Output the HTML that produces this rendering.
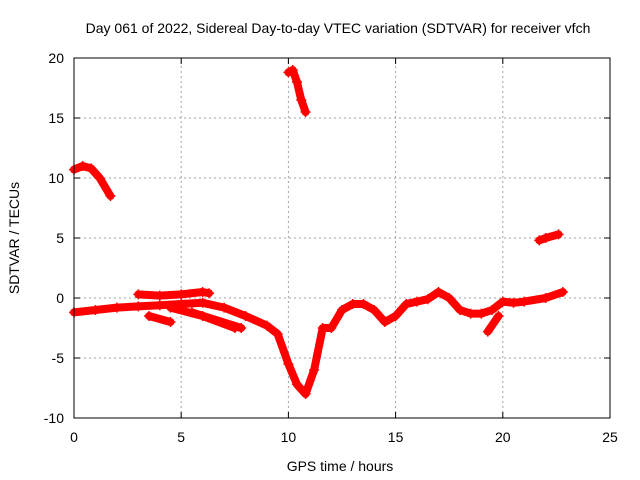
<!DOCTYPE html>
<html><head><meta charset="utf-8"><style>
body{margin:0;background:#fff}
svg{display:block;font-family:"Liberation Sans",sans-serif}
</style></head><body>
<svg id="chart" width="640" height="480" xmlns="http://www.w3.org/2000/svg">
<text x="338" y="33" font-size="14" text-anchor="middle">Day 061 of 2022, Sidereal Day-to-day VTEC variation (SDTVAR) for receiver vfch</text>
<g id="grid"></g><g id="marks"></g><g id="axes"></g>
<text x="340" y="471" font-size="14" text-anchor="middle">GPS time / hours</text>
<text transform="translate(19,238) rotate(-90)" font-size="14" text-anchor="middle">SDTVAR / TECUs</text>
</svg>
<script>
const xTicks=[0,5,10,15,20,25];
const yTicks=[-10,-5,0,5,10,15,20];
const trackMorning=[[0,10.7],[0.4,11],[0.8,10.8],[1.2,10],[1.7,8.5]];
const trackNoon=[[10,18.8],[10.2,19],[10.4,18],[10.6,16.5],[10.8,15.5]];
const trackEvening=[[21.7,4.8],[22,5],[22.6,5.3]];
const trackMain=[[0,-1.2],[1,-1.0],[2,-0.8],[3,-0.7],[4,-0.6],[5,-0.5],[6,-0.4],[7,-0.8],[8,-1.5],[9,-2.3],[9.5,-3],[10,-5.5],[10.4,-7.2],[10.8,-8],[11.2,-6],[11.6,-2.5],[12,-2.5],[12.5,-1],[13,-0.5],[13.5,-0.5],[14,-1],[14.5,-2],[15,-1.5],[15.5,-0.5],[16,-0.3],[16.5,-0.1],[17,0.5],[17.5,0],[18,-1],[18.5,-1.3],[19,-1.3],[19.5,-1],[20,-0.3],[20.5,-0.4],[21,-0.3],[22,0],[22.8,0.5]];
const trackUpper=[[3,0.3],[4,0.2],[5,0.3],[6,0.5],[6.3,0.4]];
const trackLow1=[[3.5,-1.5],[4.5,-2]];
const trackLow2=[[4.5,-0.8],[6,-1.5],[7.5,-2.5]];
const trackLow3=[[5.5,-1.2],[7.8,-2.5]];
const trackLate=[[19.3,-2.8],[19.8,-1.5]];
const tracks=[trackMorning,trackNoon,trackEvening,trackMain,trackUpper,trackLow1,trackLow2,trackLow3,trackLate];
const X0=74,X1=610,Y0=418,Y1=58;
const sx=v=>X0+(v-0)/(25-0)*(X1-X0);
const sy=v=>Y0-(v+10)/30*(Y0-Y1);
const NS="http://www.w3.org/2000/svg";
function mk(t,a,p){const e=document.createElementNS(NS,t);for(const k in a)e.setAttribute(k,a[k]);p.appendChild(e);return e;}
const grid=document.getElementById('grid'),axes=document.getElementById('axes'),marks=document.getElementById('marks');
xTicks.forEach(t=>{const x=sx(t);
 if(t>0&&t<25){const g=mk('line',{x1:x,x2:x,y1:Y0,y2:Y1,stroke:'#a0a0a0','stroke-dasharray':'2,3'},grid);}
 mk('line',{x1:x,x2:x,y1:Y0,y2:Y0-6,stroke:'#000'},axes);mk('line',{x1:x,x2:x,y1:Y1,y2:Y1+6,stroke:'#000'},axes);
 const l=mk('text',{x:x,y:Y0+24,'font-size':14,'text-anchor':'middle'},axes);l.textContent=t;
 });
yTicks.forEach(t=>{const y=sy(t);
 if(t>-10&&t<20){const g=mk('line',{x1:X0,x2:X1,y1:y,y2:y,stroke:'#a0a0a0','stroke-dasharray':'2,3'},grid);}
 mk('line',{x1:X0,x2:X0+6,y1:y,y2:y,stroke:'#000'},axes);mk('line',{x1:X1,x2:X1-6,y1:y,y2:y,stroke:'#000'},axes);
 const l=mk('text',{x:X0-10,y:y+5,'font-size':14,'text-anchor':'end'},axes);l.textContent=t;
 });
const fr=mk('rect',{x:X0,y:Y1,width:X1-X0,height:Y0-Y1,fill:'none',stroke:'#000'},axes);

tracks.forEach(tr=>{
 const pl=mk('polyline',{points:tr.map(p=>sx(p[0])+','+sy(p[1])).join(' '),fill:'none',stroke:'#f00','stroke-width':8,'stroke-linejoin':'round','stroke-linecap':'round'},marks);
 
 tr.forEach(p=>{const x=sx(p[0]),y=sy(p[1]);
  const m=mk('path',{d:`M${x-5},${y}H${x+5}M${x},${y-5}V${y+5}`,stroke:'#f00','stroke-width':1.5},marks);
  });
});
</script>
</body></html>
